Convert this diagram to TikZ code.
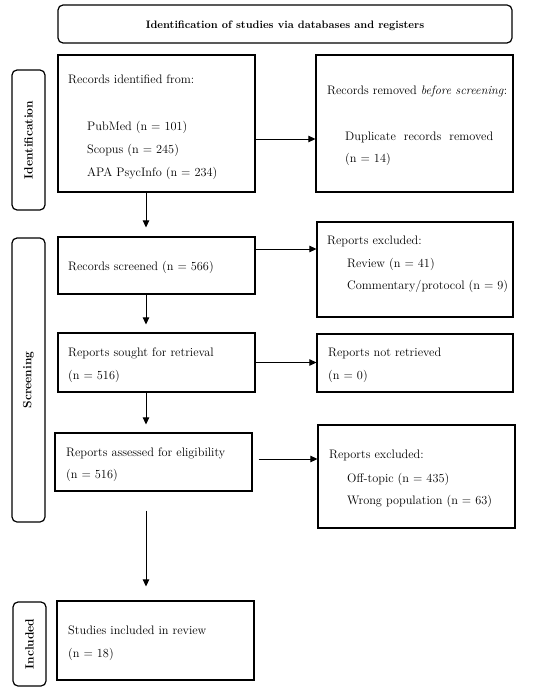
\documentclass[tikz,border=0pt]{standalone}
\usetikzlibrary{arrows.meta}
\begin{document}
\begin{tikzpicture}[x=1pt,y=-1pt,
  box/.style={draw, line width=1.2pt, inner sep=0pt},
  rbox/.style={box, rounded corners=5pt},
  txt/.style={anchor=base west, inner sep=0pt, font=\fontsize{12.3}{14}\selectfont},
  ttl/.style={anchor=base, inner sep=0pt, font=\bfseries\fontsize{10.8}{13}\selectfont},
  side/.style={rotate=90, inner sep=0pt, font=\bfseries\fontsize{12}{14}\selectfont},
  arr/.style={-{Triangle[length=7pt,width=6.5pt]}, line width=0.8pt}]
\useasboundingbox (0,0) rectangle (550,690);
\fill[white] (0,0) rectangle (550,690);
% boxes
\node[rbox, minimum width=454pt, minimum height=38pt] (title) at (285,24) {};
\node[rbox, minimum width=33pt, minimum height=140pt] (sideId) at (28.5,140) {};
\node[rbox, minimum width=33pt, minimum height=284pt] (sideScr) at (28.5,380) {};
\node[rbox, minimum width=33pt, minimum height=84pt] (sideInc) at (29.5,644) {};
\node[box, minimum width=197pt, minimum height=137pt] (rec) at (156.5,123.5) {};
\node[box, minimum width=197pt, minimum height=137pt] (rem) at (414.5,123.5) {};
\node[box, minimum width=197pt, minimum height=57pt] (scr) at (156.5,265.5) {};
\node[box, minimum width=196pt, minimum height=95pt] (excA) at (415,269.5) {};
\node[box, minimum width=197pt, minimum height=59pt] (sought) at (156.5,362.5) {};
\node[box, minimum width=196pt, minimum height=58pt] (notret) at (415,363) {};
\node[box, minimum width=197pt, minimum height=58pt] (assess) at (153.5,462) {};
\node[box, minimum width=197pt, minimum height=103pt] (excB) at (416.5,476.5) {};
\node[box, minimum width=197pt, minimum height=79pt] (incl) at (155.5,640.5) {};
% side labels
\node[side] (lId) at (sideId) {Identification};
\node[side] (lScr) at (sideScr) {Screening};
\node[side] (lInc) at (sideInc) {Included};
% texts
\node[ttl] (tTitle) at (285,29) {Identification of studies via databases and registers};
\node[txt] (t1) at (68,84) {Records identified from:};
\node[txt] (t2) at (87,130) {PubMed (n = 101)};
\node[txt] (t3) at (87,153) {Scopus (n = 245)};
\node[txt] (t4) at (87,176) {APA PsycInfo (n = 234)};
\node[txt] (t5) at (327,95) {Records removed \emph{before screening}:};
\node[txt] (t6) at (345,140) {\makebox[148pt][s]{Duplicate records removed}};
\node[txt] (t7) at (345,162) {(n = 14)};
\node[txt] (t8) at (68,270) {Records screened (n = 566)};
\node[txt] (t9) at (327,244) {Reports excluded:};
\node[txt] (t10) at (347,267) {Review (n = 41)};
\node[txt] (t11) at (347,289) {Commentary/protocol (n = 9)};
\node[txt] (t12) at (68,356) {Reports sought for retrieval};
\node[txt] (t13) at (68,379) {(n = 516)};
\node[txt] (t14) at (328,356) {Reports not retrieved};
\node[txt] (t15) at (328,379) {(n = 0)};
\node[txt] (t16) at (66,456) {Reports assessed for eligibility};
\node[txt] (t17) at (66,478) {(n = 516)};
\node[txt] (t18) at (329,458) {Reports excluded:};
\node[txt] (t19) at (347,482) {Off-topic (n = 435)};
\node[txt] (t20) at (347,504) {Wrong population (n = 63)};
\node[txt] (t21) at (68,634) {Studies included in review};
\node[txt] (t22) at (68,657) {(n = 18)};
% arrows
\draw[arr] ([yshift=-15.5pt]rec.east) -- ([yshift=-15.5pt]rem.west);
\draw[arr] ([xshift=-10.5pt]rec.south) -- ([xshift=-10.5pt,yshift=9pt]scr.north);
\draw[arr] ([yshift=16.5pt]scr.east) -- ([yshift=16.5pt]scr.east -| excA.west);
\draw[arr] ([xshift=-10.5pt]scr.south) -- ([xshift=-10.5pt,yshift=8pt]sought.north);
\draw[arr] (sought.east) -- (sought.east -| notret.west);
\draw[arr] ([xshift=-10.5pt]sought.south) -- ([xshift=-7.5pt,yshift=8pt]assess.north);
\draw[arr] ([xshift=6pt,yshift=3pt]assess.east) -- ([yshift=3pt]assess.east -| excB.west);
\draw[arr] ([xshift=-7.5pt,yshift=-19pt]assess.south) -- ([xshift=-9.5pt,yshift=14pt]incl.north);
\end{tikzpicture}
\end{document}
